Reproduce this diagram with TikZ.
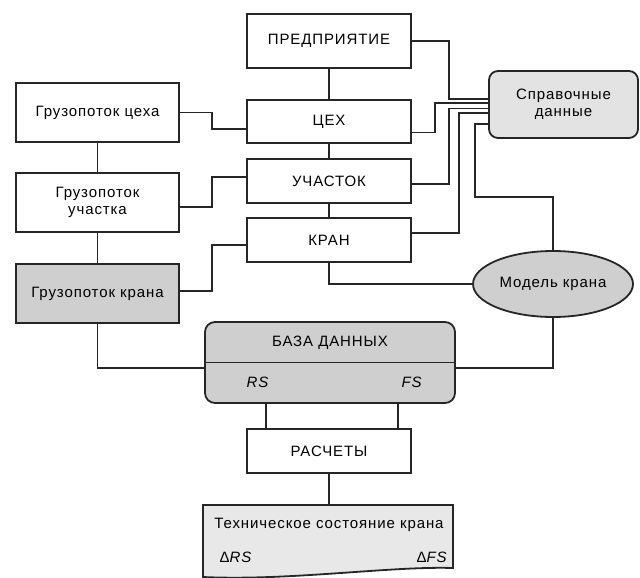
\documentclass[tikz,border=0pt]{standalone}
\usepackage{fontspec}
\setmainfont[LetterSpace=6]{Liberation Sans}
\usetikzlibrary{shapes.geometric}
\definecolor{midgrey}{HTML}{CFCFCF}
\definecolor{lightgrey}{HTML}{E3E3E3}
\definecolor{docgrey}{HTML}{E8E8E8}
\begin{document}
\begin{tikzpicture}[x=1pt,y=-1pt,font=\fontsize{15}{17.5}\selectfont,
  box/.style={shape=rectangle, draw=black!85, line width=1.8pt, minimum width=164pt, minimum height=44pt, inner sep=0pt, outer sep=0pt, align=center},
  flow/.style={box, minimum width=163pt, minimum height=59pt},
  link/.style={-, line width=1.8pt, draw=black!85}]
\useasboundingbox (0,0) rectangle (640,578);
\node[box, minimum height=54pt] (P) at (329,41) {ПРЕДПРИЯТИЕ};
\node[box, minimum height=43pt] (C) at (329,121.5) {ЦЕХ};
\node[box] (U) at (329,181) {УЧАСТОК};
\node[box] (K) at (329,240) {КРАН};
\node[box] (R) at (329,451) {РАСЧЕТЫ};
\node[flow] (GC) at (97.5,112.5) {Грузопоток цеха};
\node[flow] (GU) at (97.5,202.5) {Грузопоток\\участка};
\node[flow, fill=midgrey] (GK) at (97.5,293.5) {Грузопоток крана};
\node[box, fill=lightgrey, rounded corners=9pt, minimum width=149pt, minimum height=67pt] (S) at (563.5,104.5) {Справочные\\данные};
\node[box, shape=ellipse, fill=midgrey, minimum width=160pt, minimum height=66pt] (M) at (553,284) {Модель крана};
\node[box, fill=midgrey, rounded corners=10pt, minimum width=250pt, minimum height=81pt] (DB) at (330,362.5) {};
\draw[link] (DB.west) -- (DB.east);
\node (DBt) at (330,342.5) {БАЗА ДАННЫХ};
\node (RS) at (258,382) {\textit{RS}};
\node (FS) at (412,382) {\textit{FS}};
\node[minimum width=250pt, minimum height=72pt, inner sep=0pt, outer sep=0pt] (T) at (328,541) {};
\draw[link, fill=docgrey] (T.north west) -- (T.north east) -- ([yshift=9pt]T.south east) .. controls (390,566) and (290,581) .. (T.south west) -- cycle;
\node (Tt) at (329,525) {Техническое состояние крана};
\node (dRS) at (236,557) {Δ\textit{RS}};
\node (dFS) at (432,557) {Δ\textit{FS}};
\draw[link] (P.south) -- (C.north);
\draw[link] (C.south) -- (U.north);
\draw[link] (U.south) -- (K.north);
\draw[link] (GC.south) -- (GU.north);
\draw[link] (GU.south) -- (GK.north);
\draw[link] (GC.east) -- ++(33,0) |- ([yshift=-7.5pt]C.west);
\draw[link] ([yshift=-4.5pt]GU.east) -- ++(33,0) |- ([yshift=4pt]U.west);
\draw[link] ([yshift=2.5pt]GK.east) -- ++(33,0) |- ([yshift=-5pt]K.west);
\draw[link] (GK.south) |- ([yshift=-5.5pt]DB.west);
\draw[link] (M.south) |- ([yshift=-5.5pt]DB.east);
\draw[link] (K.south) |- (M.west);
\draw[link] ([xshift=-64pt]DB.south) -- ([xshift=-64pt]DB.south |- R.north);
\draw[link] ([xshift=68pt]DB.south) -- ([xshift=68pt]DB.south |- R.north);
\draw[link] (R.south) -- (R.south |- T.north);
\draw[link] (P.east) -- ++(38,0) |- ([yshift=5.5pt]S.west);
\draw[link] ([yshift=-11pt]C.east) -- ++(24,0) |- ([yshift=1.5pt]S.west);
\draw[link] ([yshift=-3pt]U.east) -- ++(38,0) |- ([yshift=-4pt]S.west);
\draw[link] ([yshift=7pt]K.east) -- ++(48,0) |- ([yshift=-8.5pt]S.west);
\draw[link] (M.north) -- ++(0,-54) -- ++(-78,0) |- ([yshift=-19.5pt]S.west);
\end{tikzpicture}
\end{document}
